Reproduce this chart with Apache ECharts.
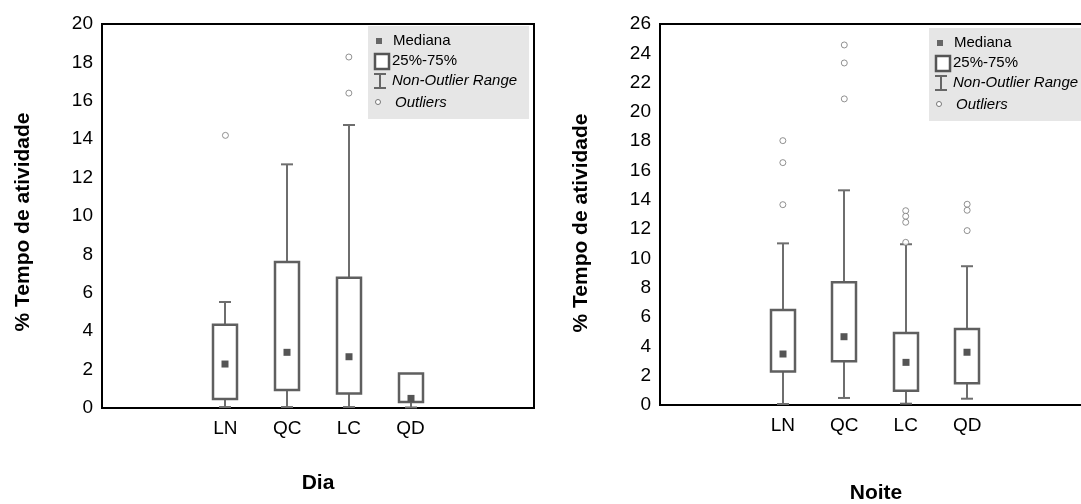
<!DOCTYPE html>
<html><head><meta charset="utf-8">
<script src="https://cdn.jsdelivr.net/npm/echarts@6/dist/echarts.min.js"></script>
<style>html,body{margin:0;padding:0;background:#fff}#c{width:1081px;height:504px}</style>
</head><body><div id="c"></div>
<script>
// ---- data ----
const groups = ['LN', 'QC', 'LC', 'QD'];
const xCategories = ['', ''].concat(groups, ['', '']);

const diaLow    = [0.05, 0.05, 0.05, 0.03];
const diaQ1     = [0.47, 0.94, 0.76, 0.31];
const diaMedian = [2.29, 2.90, 2.67, 0.50];
const diaQ3     = [4.34, 7.60, 6.79, 1.80];
const diaHigh   = [5.52, 12.69, 14.74, 1.80];
const diaOutliers = [['LN', 14.2], ['LC', 18.28], ['LC', 16.4]];

const noiteLow    = [0.07, 0.48, 0.09, 0.43];
const noiteQ1     = [2.28, 2.98, 0.98, 1.48];
const noiteMedian = [3.48, 4.66, 2.91, 3.60];
const noiteQ3     = [6.48, 8.37, 4.91, 5.19];
const noiteHigh   = [11.03, 14.65, 10.97, 9.47];
const noiteOutliers = [['LN', 18.04], ['LN', 16.54], ['LN', 13.67],
  ['QC', 24.57], ['QC', 23.34], ['QC', 20.89],
  ['LC', 13.26], ['LC', 12.88], ['LC', 12.47], ['LC', 11.1],
  ['QD', 13.7], ['QD', 13.29], ['QD', 11.9]];

const diaAxis = { min: 0, max: 20, interval: 2 };
const noiteAxis = { min: 0, max: 26, interval: 2 };

const legendLabels = ['Mediana', '25%-75%', 'Non-Outlier Range', 'Outliers'];
const panelTitles = ['Dia', 'Noite'];
const yTitle = '% Tempo de atividade';

// ---- build ----
const FONT = '"Liberation Sans", Arial, sans-serif';
function boxData(lo, q1, md, q3, hi) {
  return groups.map((g, i) => [g, lo[i], q1[i], md[i], q3[i], hi[i]]);
}
function renderBox(params, api) {
  const idx = api.value(0);
  const p = k => api.coord([idx, api.value(k)]);
  const lo = p(1), q1 = p(2), md = p(3), q3 = p(4), hi = p(5);
  const cx = Math.round(lo[0]);
  const bw = 24, cw = 12, ms = 7;
  const ls = { stroke: '#6e6e6e', lineWidth: 2 };
  const ch = [];
  if (hi[1] < q3[1] - 0.5) {
    ch.push({ type: 'line', shape: { x1: cx, y1: hi[1], x2: cx, y2: q3[1] }, style: ls });
    ch.push({ type: 'line', shape: { x1: cx - cw / 2, y1: hi[1], x2: cx + cw / 2, y2: hi[1] }, style: ls });
  }
  ch.push({ type: 'line', shape: { x1: cx, y1: q1[1], x2: cx, y2: lo[1] }, style: ls });
  ch.push({ type: 'line', shape: { x1: cx - cw / 2, y1: lo[1], x2: cx + cw / 2, y2: lo[1] }, style: ls });
  ch.push({ type: 'rect', shape: { x: cx - bw / 2, y: q3[1], width: bw, height: q1[1] - q3[1] },
    style: { fill: '#fff', stroke: '#5f5f5f', lineWidth: 2.5 } });
  ch.push({ type: 'rect', shape: { x: cx - ms / 2, y: md[1] - ms / 2, width: ms, height: ms },
    style: { fill: '#555' } });
  return { type: 'group', children: ch };
}

function legend(ox, oy) {
  const t = (txt, x, y, italic) => ({ type: 'text', x: ox + x, y: oy + y,
    style: { text: txt, fontSize: 15, fontFamily: FONT, fontStyle: italic ? 'italic' : 'normal',
      fill: '#000', align: 'left', verticalAlign: 'middle' } });
  const gs = { stroke: '#666', lineWidth: 2 };
  return [
    { type: 'rect', shape: { x: ox, y: oy, width: 161, height: 93 }, style: { fill: '#e6e6e6' } },
    { type: 'rect', shape: { x: ox + 8, y: oy + 12, width: 6, height: 6 }, style: { fill: '#666' } },
    t(legendLabels[0], 25, 15, false),
    { type: 'rect', shape: { x: ox + 7, y: oy + 28, width: 14, height: 15 },
      style: { fill: '#fff', stroke: '#555', lineWidth: 2.5 } },
    t(legendLabels[1], 24, 35, false),
    { type: 'line', shape: { x1: ox + 12, y1: oy + 48, x2: ox + 12, y2: oy + 62 }, style: gs },
    { type: 'line', shape: { x1: ox + 6, y1: oy + 48, x2: ox + 18, y2: oy + 48 }, style: gs },
    { type: 'line', shape: { x1: ox + 6, y1: oy + 62, x2: ox + 18, y2: oy + 62 }, style: gs },
    t(legendLabels[2], 24, 55, true),
    { type: 'circle', shape: { cx: ox + 10, cy: oy + 76, r: 2.5 }, style: { fill: '#fff', stroke: '#777', lineWidth: 1 } },
    t(legendLabels[3], 27, 77, true)
  ];
}

function titleText(txt, x, y, rot) {
  return { type: 'text', x: x, y: y, rotation: rot || 0,
    style: { text: txt, fontSize: 21, fontWeight: 'bold', fontFamily: FONT, fill: '#000',
      align: 'center', verticalAlign: 'middle' } };
}

const xAxisBase = (gi) => ({
  type: 'category', gridIndex: gi, data: xCategories, boundaryGap: false,
  axisLine: { show: false }, axisTick: { show: false }, splitLine: { show: false },
  axisLabel: { interval: 0, fontSize: 19, color: '#000', fontFamily: FONT, margin: 11 }
});
const yAxisBase = (gi, ax) => ({
  type: 'value', gridIndex: gi, min: ax.min, max: ax.max, interval: ax.interval,
  axisLine: { show: false }, axisTick: { show: false }, splitLine: { show: false },
  axisLabel: { fontSize: 19, color: '#000', fontFamily: FONT, margin: 9 }
});

const chart = echarts.init(document.getElementById('c'), null, { renderer: 'canvas' });
chart.setOption({
  animation: false,
  backgroundColor: '#fff',
  grid: [
    { left: 102, top: 24, width: 432, height: 384, show: true, borderColor: '#000', borderWidth: 2,
      backgroundColor: 'transparent', outerBoundsMode: 'none', containLabel: false },
    { left: 660, top: 24, width: 430, height: 381, show: true, borderColor: '#000', borderWidth: 2,
      backgroundColor: 'transparent', outerBoundsMode: 'none', containLabel: false }
  ],
  xAxis: [xAxisBase(0), xAxisBase(1)],
  yAxis: [yAxisBase(0, diaAxis), yAxisBase(1, noiteAxis)],
  series: [
    { type: 'custom', xAxisIndex: 0, yAxisIndex: 0, renderItem: renderBox,
      encode: { x: 0, y: [1, 2, 3, 4, 5] }, data: boxData(diaLow, diaQ1, diaMedian, diaQ3, diaHigh), z: 2 },
    { type: 'scatter', xAxisIndex: 0, yAxisIndex: 0, data: diaOutliers, symbol: 'circle', symbolSize: 6,
      itemStyle: { color: '#fff', borderColor: '#777', borderWidth: 1 }, z: 3 },
    { type: 'custom', xAxisIndex: 1, yAxisIndex: 1, renderItem: renderBox,
      encode: { x: 0, y: [1, 2, 3, 4, 5] }, data: boxData(noiteLow, noiteQ1, noiteMedian, noiteQ3, noiteHigh), z: 2 },
    { type: 'scatter', xAxisIndex: 1, yAxisIndex: 1, data: noiteOutliers, symbol: 'circle', symbolSize: 6,
      itemStyle: { color: '#fff', borderColor: '#777', borderWidth: 1 }, z: 3 }
  ],
  graphic: [].concat(
    legend(368, 26),
    legend(929, 28),
    [titleText(panelTitles[0], 318, 483), titleText(panelTitles[1], 876, 493),
     titleText(yTitle, 23, 222, Math.PI / 2), titleText(yTitle, 581, 223, Math.PI / 2)]
  )
});
</script></body></html>
